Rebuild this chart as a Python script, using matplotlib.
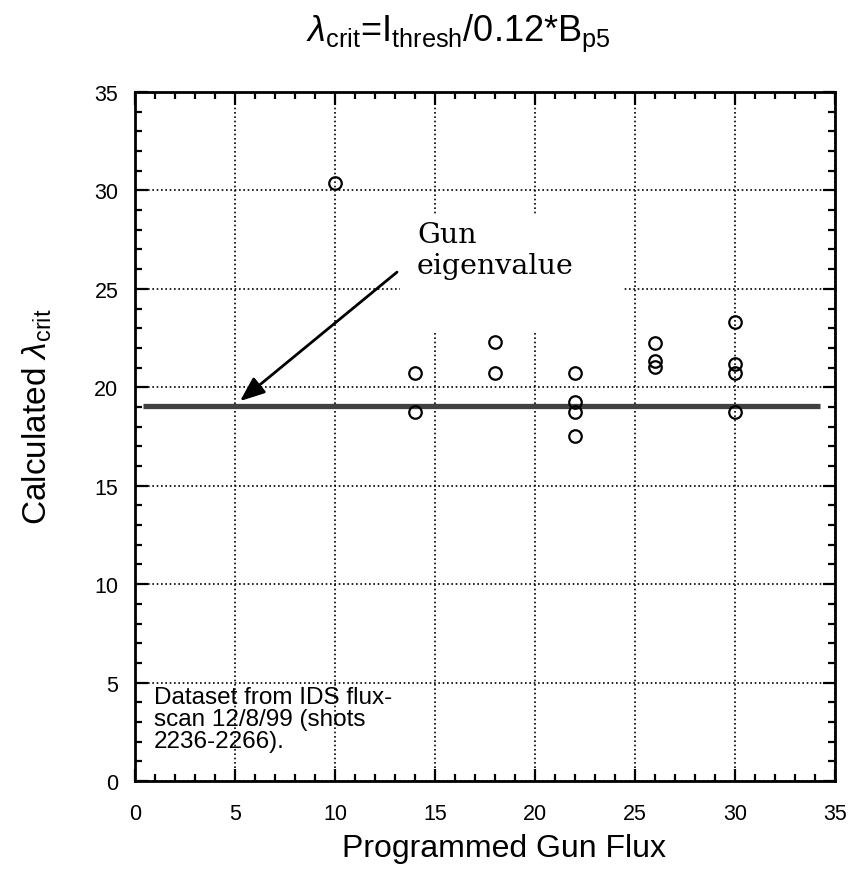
'''
	Scatter of the critical lambda against programmed gun flux, with the gun eigenvalue line.
'''

import matplotlib
matplotlib.use('Agg')
import matplotlib.pyplot as plt
from matplotlib.patches import Rectangle
from matplotlib.ticker import MultipleLocator

plt.rcParams['font.family'] = ['Liberation Sans', 'DejaVu Sans']
plt.rcParams['mathtext.fontset'] = 'custom'
plt.rcParams['mathtext.rm'] = 'Liberation Sans'
plt.rcParams['mathtext.it'] = 'Liberation Sans:italic'

# programmed gun flux and the lambda_crit found for each shot
gunFlux = [10, 14, 14, 18, 18, 22, 22, 22, 22, 26, 26, 26, 30, 30, 30, 30]
lambdaCrit = [30.4, 20.75, 18.75, 22.3, 20.75, 20.75, 19.25, 18.75, 17.55,
              22.25, 21.35, 21.05, 23.3, 21.2, 20.75, 18.75]

gunEigenvalue = 19.05
eigenRange = [0.4, 34.25]

fig = plt.figure(figsize = (8.48, 8.70), dpi = 100)
ax = fig.add_axes([0.1592, 0.1011, 0.8255, 0.792])

ax.set_xlim(0, 35)
ax.set_ylim(0, 35)
ax.xaxis.set_major_locator(MultipleLocator(5))
ax.yaxis.set_major_locator(MultipleLocator(5))
ax.xaxis.set_minor_locator(MultipleLocator(1))
ax.yaxis.set_minor_locator(MultipleLocator(1))
ax.tick_params(which = 'both', direction = 'in', top = True, right = True,
               width = 1.6, labelsize = 15.5)
ax.tick_params(axis = 'x', pad = 16)
ax.tick_params(axis = 'y', pad = 12)
ax.tick_params(which = 'major', length = 9)
ax.tick_params(which = 'minor', length = 5)
for s in ax.spines.values():
	s.set_linewidth(2.0)

ax.grid(True, which = 'major', color = 'black', linestyle = (0, (1, 1.6)), linewidth = 1.2)
ax.set_axisbelow(True)

# white patch behind the annotation hides the grid there
ax.add_patch(Rectangle((13.25, 22.8), 11.2, 6.0, facecolor = 'white', edgecolor = 'none', zorder = 1.5))

ax.plot(eigenRange, [gunEigenvalue, gunEigenvalue], color = '0.25', linewidth = 3.8,
        solid_capstyle = 'butt', zorder = 2)
ax.plot(gunFlux, lambdaCrit, linestyle = 'none', marker = 'o', markersize = 9,
        markerfacecolor = 'none', markeredgecolor = 'black', markeredgewidth = 1.6, zorder = 3)

ax.annotate('', xy = (5.25, gunEigenvalue + 0.25), xytext = (13.1, 25.85),
            arrowprops = dict(arrowstyle = '-|>,head_length=1.5,head_width=0.6',
                              color = 'black', linewidth = 2, shrinkA = 0, shrinkB = 0),
            zorder = 4)
ax.text(14.1, 28.45, 'Gun\neigenvalue', family = 'DejaVu Serif', fontsize = 20.5,
        va = 'top', ha = 'left', linespacing = 1.2, zorder = 4)

ax.text(0.95, 4.85, 'Dataset from IDS flux-\nscan 12/8/99 (shots\n2236-2266).', fontsize = 17.5,
        va = 'top', ha = 'left', linespacing = 1.02, zorder = 4)

fig.text(504 / 848, 1 - 849 / 870, 'Programmed Gun Flux', fontsize = 23,
         ha = 'center', va = 'center')
fig.text(37 / 848, 1 - 417 / 870, r'Calculated $\lambda_{\mathrm{crit}}$', fontsize = 24,
         rotation = 90, ha = 'center', va = 'center')

fig.text(458 / 848, 0.962, r'$\lambda_{\mathrm{crit}}$=I$_{\mathrm{thresh}}$/0.12*B$_{\mathrm{p5}}$',
         fontsize = 26, ha = 'center', va = 'center')

plt.savefig('out.png', dpi = 100)
plt.clf()
